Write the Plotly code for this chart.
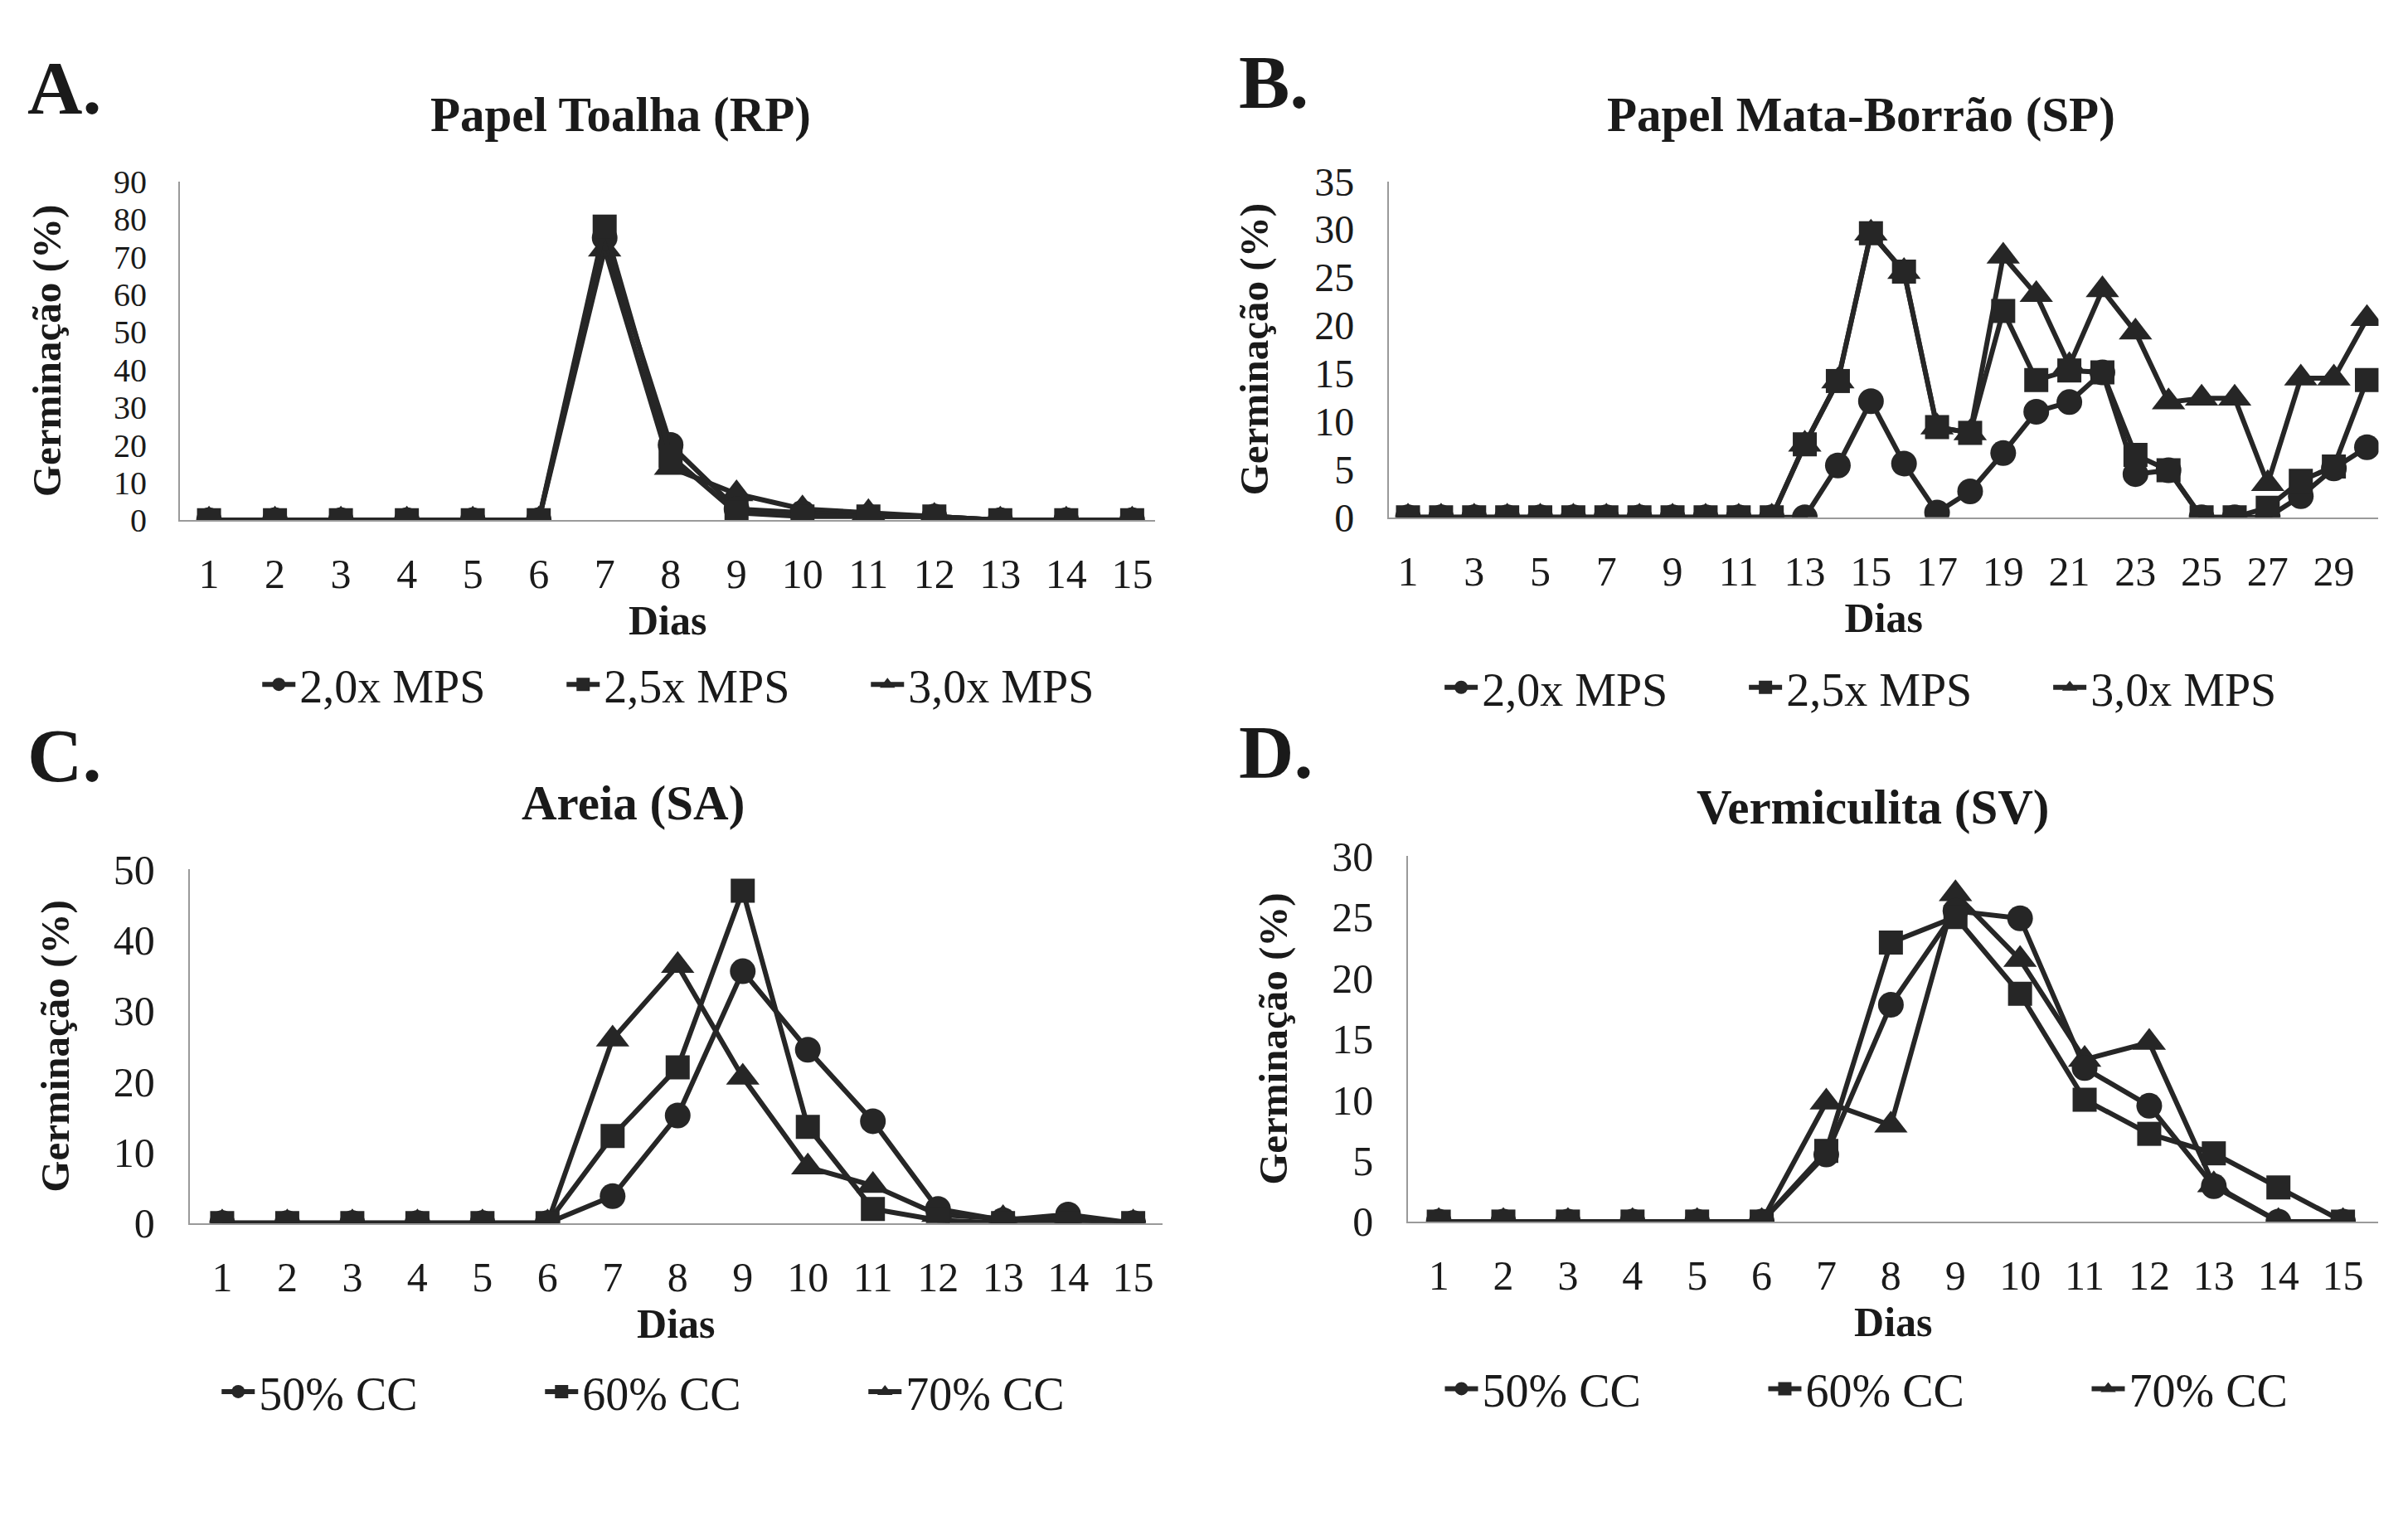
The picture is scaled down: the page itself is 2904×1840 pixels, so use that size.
import plotly.graph_objects as go

# ---- data ----
dias_15 = list(range(1, 16))
dias_30 = list(range(1, 31))

# A. Papel Toalha (RP)
rp_20 = [0, 0, 0, 0, 0, 0, 75, 20, 3, 2, 1, 1, 0, 0, 0]
rp_25 = [0, 0, 0, 0, 0, 0, 78, 17, 2, 1, 1, 1, 0, 0, 0]
rp_30 = [0, 0, 0, 0, 0, 0, 72, 14, 7, 3, 2, 1, 0, 0, 0]

# B. Papel Mata-Borrao (SP)
sp_20 = [0, 0, 0, 0, 0, 0, 0, 0, 0, 0, 0, 0, 0, 5.4, 12.1,
         5.6, 0.5, 2.7, 6.7, 11, 12, 15.1, 4.5, 4.9, 0, 0, 0, 2.2, 5.1, 7.3]
sp_25 = [0, 0, 0, 0, 0, 0, 0, 0, 0, 0, 0, 0, 7.6, 14.2, 29.6,
         25.6, 9.4, 8.8, 21.5, 14.3, 15.3, 15.1, 6.5, 4.9, 0, 0, 1.0, 3.8, 5.3, 14.3]
sp_30 = [0, 0, 0, 0, 0, 0, 0, 0, 0, 0, 0, 0, 7.6, 14.2, 29.6,
         25.6, 9.4, 8.8, 27.2, 23.2, 15.8, 23.7, 19.3, 12.0, 12.4, 12.4, 3.5, 14.5, 14.5, 20.7]

# C. Areia (SA)
sa_50 = [0, 0, 0, 0, 0, 0, 3.8, 15.2, 35.6, 24.5, 14.4, 2.0, 0.4, 1.2, 0]
sa_60 = [0, 0, 0, 0, 0, 0, 12.3, 22.0, 47.0, 13.6, 2.0, 0.4, 0, 0, 0]
sa_70 = [0, 0, 0, 0, 0, 0, 26.0, 36.4, 20.6, 7.9, 5.3, 1.2, 0.6, 0.5, 0]

# D. Vermiculita (SV)
sv_50 = [0, 0, 0, 0, 0, 0, 5.5, 17.8, 25.5, 24.9, 12.6, 9.5, 2.9, 0, 0]
sv_60 = [0, 0, 0, 0, 0, 0, 5.8, 22.9, 25.0, 18.7, 10.0, 7.2, 5.6, 2.8, 0]
sv_70 = [0, 0, 0, 0, 0, 0, 9.8, 7.9, 26.9, 21.5, 13.3, 14.7, 3.0, 0, 0]

mps_names = ["2,0x MPS", "2,5x MPS", "3,0x MPS"]
cc_names = ["50% CC", "60% CC", "70% CC"]

FONT = "Liberation Serif"
INK = "#262626"
TXT = "#1a1a1a"
AXIS_GRAY = "#9a9a9a"

symbols = ["circle", "square", "triangle-up"]
sizes = [31, 29, 35]

panels = [
    # (suffix, x, series, names, ymax, dtick, xrange, xdom, ydom, tickvals, ytick font)
    ("", dias_15, [rp_20, rp_25, rp_30], mps_names, 90, 10,
     [0.56, 15.35], [0.072, 0.477], [0.668, 0.897], dias_15, 40),
    ("2", dias_30, [sp_20, sp_25, sp_30], mps_names, 35, 5,
     [0.42, 30.35], [0.574, 0.985], [0.670, 0.897], list(range(1, 30, 2)), 48),
    ("3", dias_15, [sa_50, sa_60, sa_70], cc_names, 50, 10,
     [0.50, 15.45], [0.076, 0.480], [0.193, 0.432], dias_15, 50),
    ("4", dias_15, [sv_50, sv_60, sv_70], cc_names, 30, 5,
     [0.525, 15.55], [0.582, 0.985], [0.194, 0.441], dias_15, 50),
]

legend_pos = [(0.294, 0.557, 312), (0.785, 0.555, 312),
              (0.289, 0.079, 335), (0.797, 0.081, 335)]

fig = go.Figure()

# draw triangles first, then circles, squares on top (as in the original)
draw_order = [2, 0, 1]
for p, (suf, xs, series, names, ymax, dtick, xr, xd, yd, tv, yfs) in enumerate(panels):
    for k in draw_order:
        fig.add_trace(go.Scatter(
            x=xs, y=series[k], name=names[k], mode="lines+markers",
            line=dict(color=INK, width=6),
            marker=dict(symbol=symbols[k], size=sizes[k], color=INK),
            xaxis="x" + suf, yaxis="y" + suf,
            legend="legend" + suf, legendrank=k + 1,
        ))

    xa = dict(domain=xd, range=xr, anchor="y" + suf, tickvals=tv,
              showgrid=False, zeroline=False, showline=True,
              linecolor=AXIS_GRAY, linewidth=2, ticks="",
              ticklabelstandoff=20,
              tickfont=dict(family=FONT, size=50, color=TXT),
              title=dict(text="<b>Dias</b>", standoff=8,
                         font=dict(family=FONT, size=50, color=TXT)))
    ya = dict(domain=yd, range=[0, ymax], dtick=dtick, anchor="x" + suf,
              showgrid=False, zeroline=False, showline=True,
              linecolor=AXIS_GRAY, linewidth=2, ticks="",
              ticklabelstandoff=30,
              tickfont=dict(family=FONT, size=yfs, color=TXT),
              title=dict(text="<b>Germinação (%)</b>", standoff=38 + (50 - yfs),
                         font=dict(family=FONT, size=49, color=TXT)))
    fig.update_layout({"xaxis" + suf: xa, "yaxis" + suf: ya})

    lx, ly, ew = legend_pos[p]
    fig.update_layout({"legend" + suf: dict(
        orientation="h", x=lx, y=ly, xanchor="center", yanchor="middle",
        traceorder="normal", entrywidth=ew, entrywidthmode="pixels",
        itemwidth=40, bgcolor="rgba(0,0,0,0)",
        font=dict(family=FONT, size=56, color=TXT))})

# panel letters and titles
titles = [
    ("A.", 0.008, 0.960, "Papel Toalha (RP)", 0.255, 0.942),
    ("B.", 0.511, 0.964, "Papel Mata-Borrão (SP)", 0.770, 0.942),
    ("C.", 0.008, 0.509, "Areia (SA)", 0.260, 0.477),
    ("D.", 0.511, 0.511, "Vermiculita (SV)", 0.775, 0.474),
]
for letter, lx, ly, title, tx, ty in titles:
    fig.add_annotation(text="<b>" + letter + "</b>", x=lx, y=ly,
                       xref="paper", yref="paper", xanchor="left",
                       yanchor="middle", showarrow=False,
                       font=dict(family=FONT, size=92, color=TXT))
    fig.add_annotation(text="<b>" + title + "</b>", x=tx, y=ty,
                       xref="paper", yref="paper", xanchor="center",
                       yanchor="middle", showarrow=False,
                       font=dict(family=FONT, size=59, color=TXT))

fig.update_layout(
    width=2904, height=1840,
    margin=dict(l=0, r=0, t=0, b=0),
    paper_bgcolor="white", plot_bgcolor="white",
    showlegend=True,
)

fig.write_html("out.html")
